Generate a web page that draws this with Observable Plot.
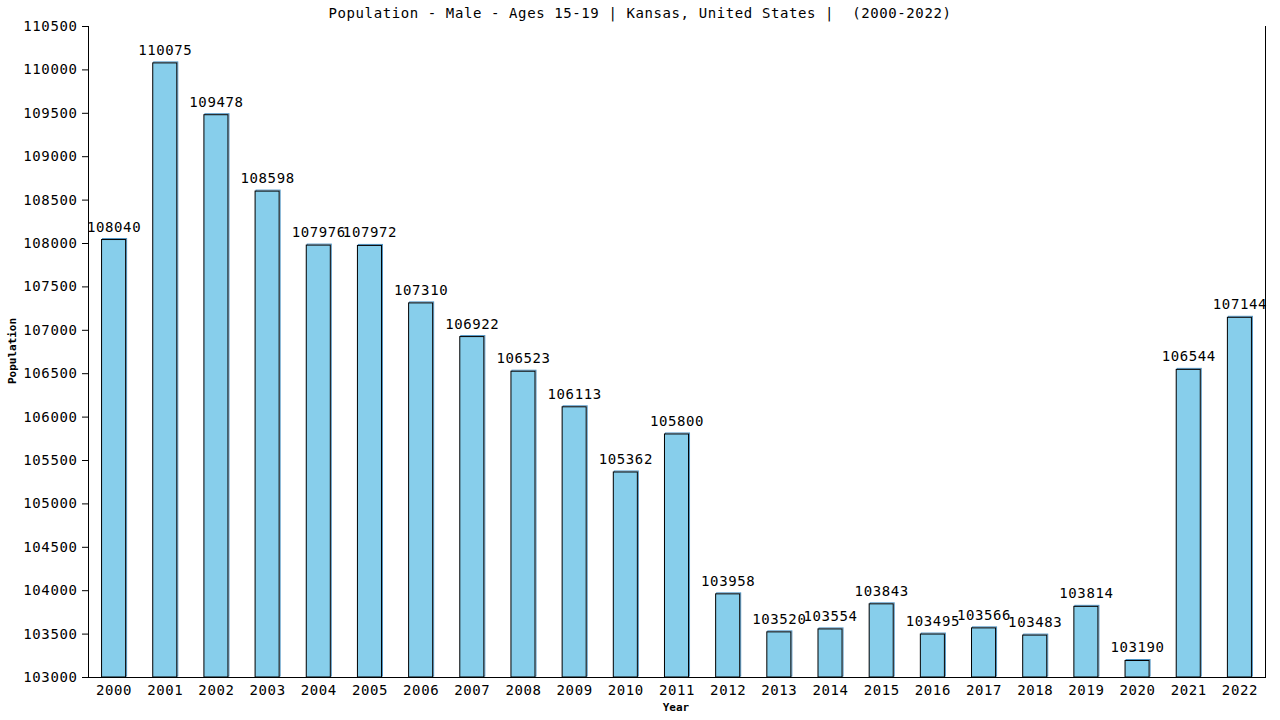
<!DOCTYPE html>
<html>
<head>
<meta charset="utf-8">
<script src="https://cdn.jsdelivr.net/npm/d3@7"></script>
<script src="https://cdn.jsdelivr.net/npm/@observablehq/plot@0.6"></script>
<style>
  body { margin: 0; background: #fff; position: relative; }
  #title { position: absolute; top: 0; left: 0; width: 1280px; height: 26px; font: 14px "DejaVu Sans Mono", monospace; line-height: 26px; text-align: center; letter-spacing: 0.6px; color: #000; white-space: pre; z-index: 2; }
  svg text { font-family: "DejaVu Sans Mono", monospace; }
</style>
</head>
<body>
<div id="title">Population - Male - Ages 15-19 | Kansas, United States |  (2000-2022)</div>
<div id="chart"></div>
<script>
const years = ["2000","2001","2002","2003","2004","2005","2006","2007","2008","2009","2010","2011","2012","2013","2014","2015","2016","2017","2018","2019","2020","2021","2022"];
const population = [108040,110075,109478,108598,107976,107972,107310,106922,106523,106113,105362,105800,103958,103520,103554,103843,103495,103566,103483,103814,103190,106544,107144];
const yTicks = [103000,103500,104000,104500,105000,105500,106000,106500,107000,107500,108000,108500,109000,109500,110000,110500];
const yDomain = [103000, 110500];

const data = years.map((y, i) => ({year: y, value: population[i]}));

const chart = Plot.plot({
  width: 1280,
  height: 720,
  marginTop: 26,
  marginBottom: 43,
  marginLeft: 88,
  marginRight: 15,
  style: {fontFamily: '"DejaVu Sans Mono", monospace', fontSize: "14px", color: "#000"},
  x: {domain: years, paddingInner: 0.53, paddingOuter: 0.265, round: false, label: null},
  y: {domain: yDomain, label: null},
  marks: [
    Plot.barY(data, {x: "year", y1: yDomain[0], y2: "value", fill: "none", stroke: "#4f94c4", strokeWidth: 1, dx: 1, dy: -1}),
    Plot.barY(data, {x: "year", y1: yDomain[0], y2: "value", fill: "#87CEEB", stroke: "#000", strokeWidth: 1}),
    Plot.text(data, {x: "year", y: "value", text: d => String(d.value), dy: -13, fontSize: 14, fill: "#000"}),
    Plot.axisY({ticks: yTicks, tickSize: 6, tickPadding: 5, tickFormat: d => String(d), fontSize: 14, label: null}),
    Plot.axisX({tickSize: 0, tickPadding: 8, fontSize: 14, label: null}),
    Plot.frame({anchor: "left", stroke: "#000"}),
    Plot.frame({anchor: "right", stroke: "#000"}),
    Plot.frame({anchor: "bottom", stroke: "#000"})
  ]
});
document.getElementById("chart").appendChild(chart);

d3.select(chart).selectAll("text").style("letter-spacing", "0.6px");

const svg = d3.select(chart);
svg.append("text")
  .attr("x", 676).attr("y", 708)
  .attr("text-anchor", "middle").attr("dominant-baseline", "middle")
  .attr("font-size", 11).attr("font-weight", "bold")
  .style("font-family", '"DejaVu Sans Mono", monospace')
  .text("Year");
svg.append("text")
  .attr("transform", "translate(13,351) rotate(-90)")
  .attr("text-anchor", "middle").attr("dominant-baseline", "middle")
  .attr("font-size", 11).attr("font-weight", "bold")
  .style("font-family", '"DejaVu Sans Mono", monospace')
  .text("Population");
</script>
</body>
</html>
